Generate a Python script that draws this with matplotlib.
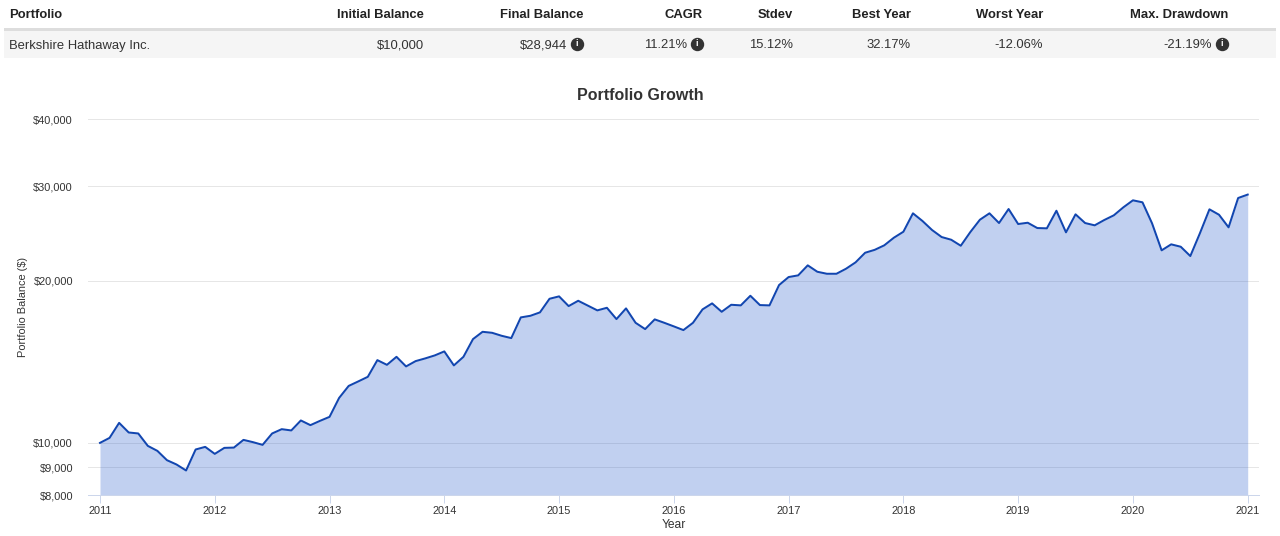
import matplotlib
matplotlib.use("Agg")
import matplotlib.pyplot as plt
from matplotlib.lines import Line2D
from matplotlib.patches import Rectangle
from matplotlib.ticker import FixedLocator, NullLocator
import numpy as np

plt.rcParams['font.family'] = ['Liberation Sans', 'DejaVu Sans']

# ---- table data ----
table_headers = ["Portfolio", "Initial Balance", "Final Balance", "CAGR", "Stdev",
                 "Best Year", "Worst Year", "Max. Drawdown"]
table_row = ["Berkshire Hathaway Inc.", "$10,000", "$28,944", "11.21%", "15.12%",
             "32.17%", "-12.06%", "-21.19%"]
table_info_icon = [False, False, True, True, False, False, False, True]

# ---- chart data: monthly balance, Jan 2011 .. Jan 2021 ----
start_year = 2011
balances = [
    10000, 10216, 10894, 10455, 10411, 9872, 9663, 9286, 9116, 8885, 9721, 9830,
    9540, 9788, 9800, 10129, 10030, 9915, 10411, 10604, 10546, 11007, 10788, 10988,
    11178, 12120, 12760, 13008, 13267, 14250, 13966, 14453, 13871, 14190, 14355, 14540,
    14792, 13931, 14453, 15592, 16087, 16018, 15814, 15659, 17110, 17228, 17481, 18530,
    18721, 17959, 18372, 17998, 17631, 17829, 16986, 17783, 16719, 16274, 16965, 16719,
    16464, 16205, 16719, 17707, 18168, 17526, 18060, 18013, 18770, 18036, 18013, 19650,
    20335, 20483, 21380, 20802, 20624, 20624, 21071, 21656, 22565, 22847, 23292, 24062,
    24689, 26713, 25846, 24869, 24134, 23857, 23252, 24657, 25991, 26713, 25625, 27209,
    25516, 25658, 25082, 25050, 27012, 24625, 26599, 25625, 25374, 25957, 26485, 27408,
    28242, 28001, 25592, 22798, 23392, 23152, 22248, 24520, 27174, 26553, 25157, 28522,
    28944,
]
year_ticks = list(range(2011, 2022))
y_ticks = [8000, 9000, 10000, 20000, 30000, 40000]
y_tick_labels = ["$8,000", "$9,000", "$10,000", "$20,000", "$30,000", "$40,000"]

W, H = 1280, 536
fig = plt.figure(figsize=(W / 100, H / 100), dpi=100)

def fx(px):
    return px / W

def fy(py):
    return 1 - py / H

PT = 72 / 100  # points per pixel

# ---- table ----
header_color = '#222222'
row_color = '#333333'
fig.add_artist(Rectangle((fx(4), fy(58)), fx(1276) - fx(4), fy(31) - fy(58),
                         transform=fig.transFigure, facecolor='#f5f5f5', edgecolor='none', zorder=0))
fig.add_artist(Rectangle((fx(4), fy(31)), fx(1276) - fx(4), fy(28) - fy(31),
                         transform=fig.transFigure, facecolor='#dddddd', edgecolor='none', zorder=1))

head_y, row_y = 15.5, 45.5
col_right = [None, 424, 583, 703, 793, 911, 1043, 1228]
for j, (h, v) in enumerate(zip(table_headers, table_row)):
    if j == 0:
        fig.text(fx(9), fy(head_y), h, ha='left', va='center', fontsize=13 * PT,
                 fontweight='bold', color=header_color)
        fig.text(fx(9), fy(row_y), v, ha='left', va='center', fontsize=13 * PT, color=row_color)
        continue
    r = col_right[j]
    fig.text(fx(r), fy(head_y), h, ha='right', va='center', fontsize=13 * PT,
             fontweight='bold', color=header_color)
    if table_info_icon[j]:
        fig.text(fx(r - 16), fy(row_y), v, ha='right', va='center', fontsize=13 * PT, color=row_color)
        cx, cy = r - 6, 44
        fig.add_artist(Line2D([fx(cx)], [fy(cy)], transform=fig.transFigure, marker='o',
                              markersize=12 * PT, color='#333333', linestyle='none'))
        fig.text(fx(cx), fy(cy), "i", ha='center', va='center', fontsize=9 * PT,
                 fontweight='bold', color='white')
    else:
        fig.text(fx(r), fy(row_y), v, ha='right', va='center', fontsize=13 * PT, color=row_color)

# ---- chart ----
ax_left, ax_right, ax_top, ax_bottom = 88, 1259, 119, 495
ax = fig.add_axes([fx(ax_left), fy(ax_bottom), fx(ax_right) - fx(ax_left), fy(ax_top) - fy(ax_bottom)])

xs = start_year + np.arange(len(balances)) / 12.0
ax.set_yscale('log')
ax.set_ylim(8000, 40000)
px_per_year = (1247.7 - 100) / 10
ax.set_xlim(2011 - 12 / px_per_year, 2021 + 11.3 / px_per_year)

ax.fill_between(xs, balances, 8000, color='#2b5fcc', alpha=0.29, linewidth=0, zorder=2)
ax.plot(xs, balances, color='#1246b0', linewidth=2 * PT, zorder=3, solid_joinstyle='round')

ax.yaxis.set_major_locator(FixedLocator(y_ticks))
ax.yaxis.set_minor_locator(NullLocator())
ax.set_yticklabels(y_tick_labels)
ax.set_xticks(year_ticks)
ax.set_xticklabels([str(y) for y in year_ticks])
ax.xaxis.set_minor_locator(NullLocator())

ax.grid(axis='y', color='#e6e6e6', linewidth=1 * PT, zorder=1)
ax.set_axisbelow(True)
for s in ['top', 'right', 'left']:
    ax.spines[s].set_visible(False)
ax.spines['bottom'].set_color('#ccd6eb')
ax.spines['bottom'].set_linewidth(1 * PT)

ax.tick_params(axis='y', length=0, pad=15 * PT, labelsize=11 * PT, labelcolor='#333333')
ax.tick_params(axis='x', length=8 * PT, width=1 * PT, color='#ccd6eb', pad=3 * PT,
               labelsize=11 * PT, labelcolor='#333333')

fig.text(fx(640), fy(95), "Portfolio Growth", ha='center', va='center',
         fontsize=16 * PT, fontweight='bold', color='#333333')
fig.text(fx(23), fy(307), "Portfolio Balance ($)", ha='center', va='center', rotation=90,
         fontsize=11 * PT, color='#333333')
fig.text(fx(674), fy(525), "Year", ha='center', va='center', fontsize=12 * PT, color='#333333')

fig.savefig("out.png", dpi=100)
